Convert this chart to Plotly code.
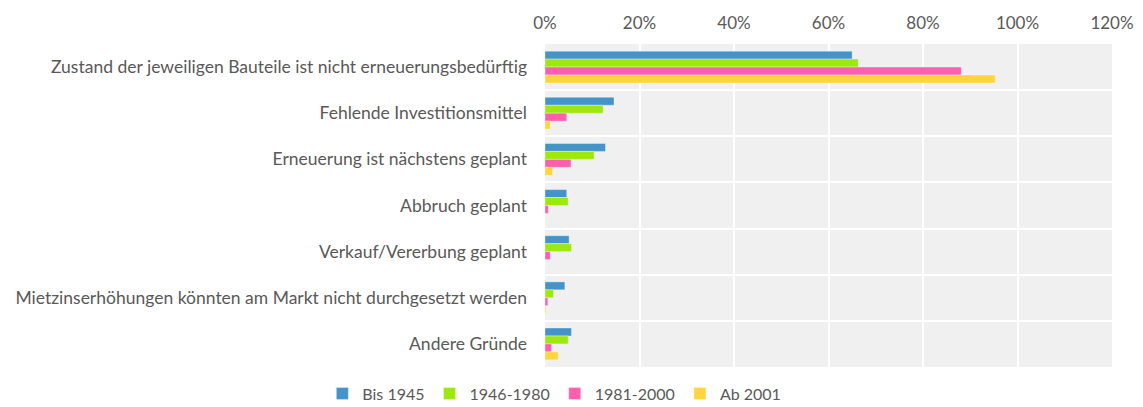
import plotly.graph_objects as go

categories = [
    "Zustand der jeweiligen Bauteile ist nicht erneuerungsbedürftig",
    "Fehlende Investitionsmittel",
    "Erneuerung ist nächstens geplant",
    "Abbruch geplant",
    "Verkauf/Vererbung geplant",
    "Mietzinserhöhungen könnten am Markt nicht durchgesetzt werden",
    "Andere Gründe",
]
series_names = ["Bis 1945", "1946-1980", "1981-2000", "Ab 2001"]
bis_1945 = [0.650, 0.146, 0.128, 0.046, 0.051, 0.042, 0.056]
s_1946_1980 = [0.663, 0.123, 0.104, 0.049, 0.056, 0.018, 0.049]
s_1981_2000 = [0.881, 0.046, 0.055, 0.007, 0.011, 0.006, 0.014]
ab_2001 = [0.953, 0.011, 0.016, 0.0, 0.0, 0.002, 0.028]
colors = ["#4594c9", "#9de80f", "#ff5fae", "#ffd43c"]
x_ticks = [0, 0.2, 0.4, 0.6, 0.8, 1.0, 1.2]

values = [bis_1945, s_1946_1980, s_1981_2000, ab_2001]

FONT = "Lato, 'Open Sans', sans-serif"
fig = go.Figure()
for name, vals, col in zip(series_names, values, colors):
    fig.add_trace(go.Bar(
        y=categories, x=vals, name=name, orientation="h",
        marker=dict(color=col, line=dict(color="rgba(255,255,255,0.35)", width=1)),
    ))

fig.update_layout(
    width=1143, height=407,
    barmode="group", bargap=0.31, bargroupgap=0,
    plot_bgcolor="#f0f0f0", paper_bgcolor="white",
    margin=dict(l=545, r=31, t=44, b=40, autoexpand=False),
    font=dict(family=FONT, size=17, color="#595959"),
    showlegend=True,
    legend=dict(orientation="h", xref="container", x=0.485, xanchor="center",
                y=-0.03, yanchor="top",
                font=dict(size=16, color="#595959"), traceorder="normal",
                itemwidth=30),
    xaxis=dict(side="top", range=[0, 1.2], tickvals=x_ticks, tickformat=".0%",
               showgrid=True, gridcolor="white", gridwidth=2, zeroline=False,
               showline=False, ticks="", automargin=False, ticklabelstandoff=11,
               tickfont=dict(size=17, color="#595959")),
    yaxis=dict(autorange="reversed", type="category", tickson="boundaries",
               showgrid=True, gridcolor="white", gridwidth=2, ticks="",
               showline=False, zeroline=False, automargin=False,
               ticklabelstandoff=17,
               tickfont=dict(size=17.5, color="#595959")),
)
fig.write_html("out.html", config={"displayModeBar": False},
               post_script="document.body.style.margin='0';document.body.style.overflow='hidden';")
